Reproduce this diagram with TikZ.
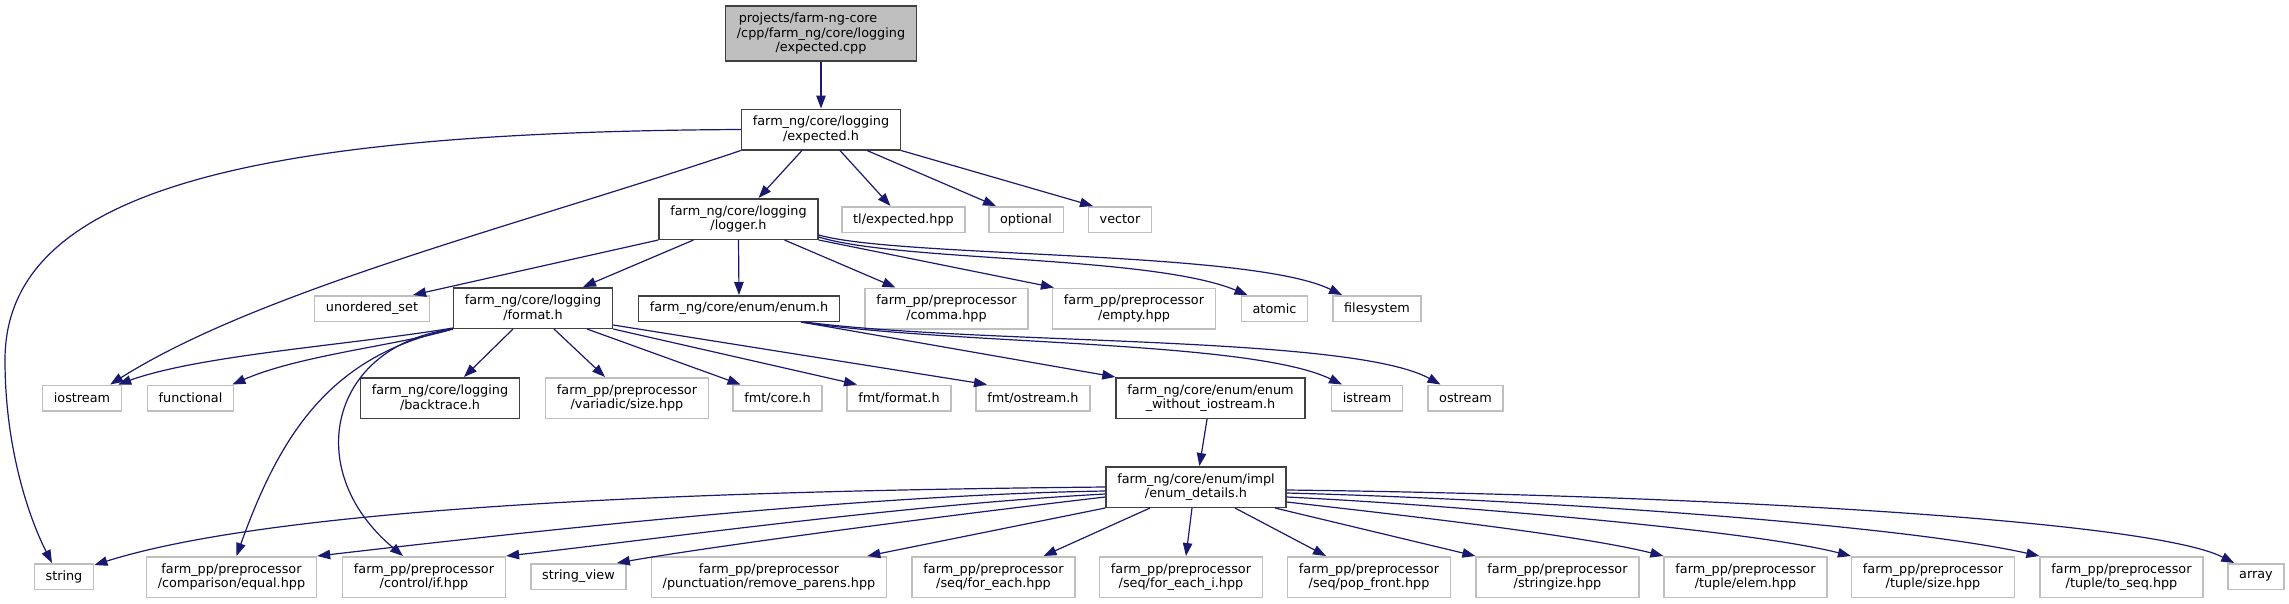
\documentclass[tikz,border=0pt]{standalone}
\usepackage{fontspec}
\setmainfont{DejaVu Sans}
\usetikzlibrary{arrows.meta}
\definecolor{edgeblue}{HTML}{191970}
\definecolor{projline}{HTML}{404040}
\definecolor{sysline}{HTML}{BFBFBF}
\definecolor{rootfill}{HTML}{BFBFBF}
\tikzset{
  file/.style={draw, fill=white, line width=1.5pt, align=center, inner xsep=11.3pt, inner ysep=1pt, font=\fontsize{12.8}{14.7}\selectfont},
  proj/.style={file, draw=projline},
  sys/.style={file, draw=sysline},
  rootfile/.style={file, draw=projline, fill=rootfill},
  one/.style={minimum height=25.5pt},
  two/.style={minimum height=40.5pt},
  dep/.style={draw=edgeblue, line width=1.2pt, -{Triangle[length=13pt,width=9.5pt]}},
}
\begin{document}
\begin{tikzpicture}[x=1pt, y=-1pt]
\useasboundingbox (0,0) rectangle (2289,603);
\node[rootfile, minimum height=55pt] (root) at (821,33.5) {projects/farm-ng-core\rule{26pt}{0pt}\\/cpp/farm\_ng/core/logging\\/expected.cpp};
\node[proj, two] (exph) at (821,129.5) {farm\_ng/core/logging\\/expected.h};
\node[proj, two] (logger) at (738.5,219) {farm\_ng/core/logging\\/logger.h};
\node[sys, one] (tlexp) at (903.5,219.5) {tl/expected.hpp};
\node[sys, one] (optional) at (1026,219.5) {optional};
\node[sys, one] (vector) at (1120,219.5) {vector};
\node[sys, one] (unorderedset) at (372,308.5) {unordered\_set};
\node[proj, two] (format) at (533,308) {farm\_ng/core/logging\\/format.h};
\node[proj, one] (enumh) at (739,308.5) {farm\_ng/core/enum/enum.h};
\node[sys, two] (comma) at (946.5,308.5) {farm\_pp/preprocessor\\/comma.hpp};
\node[sys, two] (empty) at (1134,308.5) {farm\_pp/preprocessor\\/empty.hpp};
\node[sys, one] (atomic) at (1274.5,308.5) {atomic};
\node[sys, one] (filesystem) at (1377,308.5) {filesystem};
\node[sys, one] (iostream) at (82,398) {iostream};
\node[sys, one] (functional) at (190.5,398) {functional};
\node[proj, two] (backtrace) at (440,398) {farm\_ng/core/logging\\/backtrace.h};
\node[sys, two] (variadic) at (627,398) {farm\_pp/preprocessor\\/variadic/size.hpp};
\node[sys, one] (fmtcore) at (777.5,398) {fmt/core.h};
\node[sys, one] (fmtformat) at (899,398) {fmt/format.h};
\node[sys, one] (fmtostream) at (1033,398) {fmt/ostream.h};
\node[proj, two] (enumwo) at (1210.5,398) {farm\_ng/core/enum/enum\\\_without\_iostream.h};
\node[sys, one] (istream) at (1367,398) {istream};
\node[sys, one] (ostream) at (1465.5,398) {ostream};
\node[proj, two] (details) at (1196,487) {farm\_ng/core/enum/impl\\/enum\_details.h};
\node[sys, one] (string) at (64,576.5) {string};
\node[sys, two] (equal) at (231.5,577) {farm\_pp/preprocessor\\/comparison/equal.hpp};
\node[sys, two] (ifhpp) at (424,577) {farm\_pp/preprocessor\\/control/if.hpp};
\node[sys, one] (stringview) at (578.5,576.5) {string\_view};
\node[sys, two] (removeparens) at (769,577) {farm\_pp/preprocessor\\/punctuation/remove\_parens.hpp};
\node[sys, two] (foreach) at (993.5,577) {farm\_pp/preprocessor\\/seq/for\_each.hpp};
\node[sys, two] (foreachi) at (1181,577) {farm\_pp/preprocessor\\/seq/for\_each\_i.hpp};
\node[sys, two] (popfront) at (1369,577) {farm\_pp/preprocessor\\/seq/pop\_front.hpp};
\node[sys, two] (stringize) at (1557.5,577) {farm\_pp/preprocessor\\/stringize.hpp};
\node[sys, two] (elem) at (1745.5,577) {farm\_pp/preprocessor\\/tuple/elem.hpp};
\node[sys, two] (tsize) at (1933,577) {farm\_pp/preprocessor\\/tuple/size.hpp};
\node[sys, two] (toseq) at (2121.5,577) {farm\_pp/preprocessor\\/tuple/to\_seq.hpp};
\node[sys, one] (array) at (2256,576.5) {array};
\draw[dep] (root) -- (exph);
\draw[dep] ([xshift=-19pt]exph.south) -- ([xshift=20pt]logger.north);
\draw[dep] ([xshift=19pt]exph.south) -- ([xshift=-13pt]tlexp.north);
\draw[dep] ([xshift=46pt]exph.south) -- ([xshift=-30pt]optional.north);
\draw[dep] (exph.south east) -- ([xshift=-27pt]vector.north);
\draw[dep] (exph.south west) .. controls (520,225) and (260,290) .. ([xshift=-12pt]iostream.north east);
\draw[dep] (exph.west) .. controls (250,132) and (5,190) .. (5,360) .. controls (5,450) and (30,520) .. ([xshift=-12pt]string.north);
\draw[dep] (logger.south west) -- ([xshift=41pt]unorderedset.north);
\draw[dep] ([xshift=-45pt]logger.south) -- ([xshift=50pt]format.north);
\draw[dep] (logger.south) -- (enumh.north);
\draw[dep] ([xshift=46pt]logger.south) -- ([xshift=-51pt]comma.north);
\draw[dep] (logger.south east) -- ([xshift=2pt]empty.north west);
\draw[dep] ([yshift=3pt]logger.south east) .. controls (900,262) and (1150,255) .. ([xshift=-27pt]atomic.north);
\draw[dep] ([yshift=5pt]logger.south east) .. controls (900,258) and (1250,250) .. ([xshift=-35pt]filesystem.north);
\draw[dep] ([yshift=1pt]format.south west) .. controls (350,345) and (200,355) .. ([xshift=-4pt]iostream.north east);
\draw[dep] (format.south west) .. controls (400,345) and (300,355) .. ([xshift=-2pt]functional.north east);
\draw[dep] (format.south west) .. controls (330,355) and (280,435) .. ([xshift=5pt]equal.north);
\draw[dep] (format.south west) .. controls (330,345) and (300,470) .. ([xshift=-21pt]ifhpp.north);
\draw[dep] ([xshift=-20pt]format.south) -- ([xshift=24pt]backtrace.north);
\draw[dep] ([xshift=21pt]format.south) -- ([xshift=-22pt]variadic.north);
\draw[dep] ([xshift=54pt]format.south) -- ([xshift=-37pt]fmtcore.north);
\draw[dep] (format.south east) -- ([xshift=-42pt]fmtformat.north);
\draw[dep] ([yshift=4pt]format.south east) -- ([xshift=-46pt]fmtostream.north);
\draw[dep] ([xshift=62pt]enumh.south) -- (enumwo.north west);
\draw[dep] ([xshift=62pt]enumh.south) .. controls (950,345) and (1250,340) .. ([xshift=-25pt]istream.north);
\draw[dep] ([xshift=66pt]enumh.south) .. controls (980,345) and (1350,335) .. ([xshift=-25pt]ostream.north);
\draw[dep] (enumwo) -- (details);
\draw[dep] (details.west) .. controls (800,490) and (300,500) .. ([yshift=-2pt]string.north east);
\draw[dep] ([yshift=-4pt]details.west) .. controls (850,495) and (500,535) .. (equal.north east);
\draw[dep] ([yshift=-7pt]details.west) .. controls (900,505) and (650,540) .. (ifhpp.north east);
\draw[dep] ([yshift=-10pt]details.west) .. controls (950,515) and (720,545) .. ([xshift=-10pt]stringview.north east);
\draw[dep] (details.south west) -- ([xshift=-20pt]removeparens.north east);
\draw[dep] ([xshift=-46pt]details.south) -- ([xshift=50pt]foreach.north);
\draw[dep] ([xshift=-4pt]details.south) -- ([xshift=5pt]foreachi.north);
\draw[dep] ([xshift=39pt]details.south) -- ([xshift=-43pt]popfront.north);
\draw[dep] ([xshift=79pt]details.south) -- (stringize.north west);
\draw[dep] ([yshift=-15pt]details.east) .. controls (1400,515) and (1580,535) .. (elem.north west);
\draw[dep] ([yshift=-10pt]details.east) .. controls (1450,505) and (1750,530) .. (tsize.north west);
\draw[dep] ([yshift=-6pt]details.east) .. controls (1550,500) and (1900,525) .. (toseq.north west);
\draw[dep] ([yshift=-3pt]details.east) .. controls (1700,495) and (2150,520) .. ([xshift=7pt]array.north west);
\end{tikzpicture}
\end{document}
